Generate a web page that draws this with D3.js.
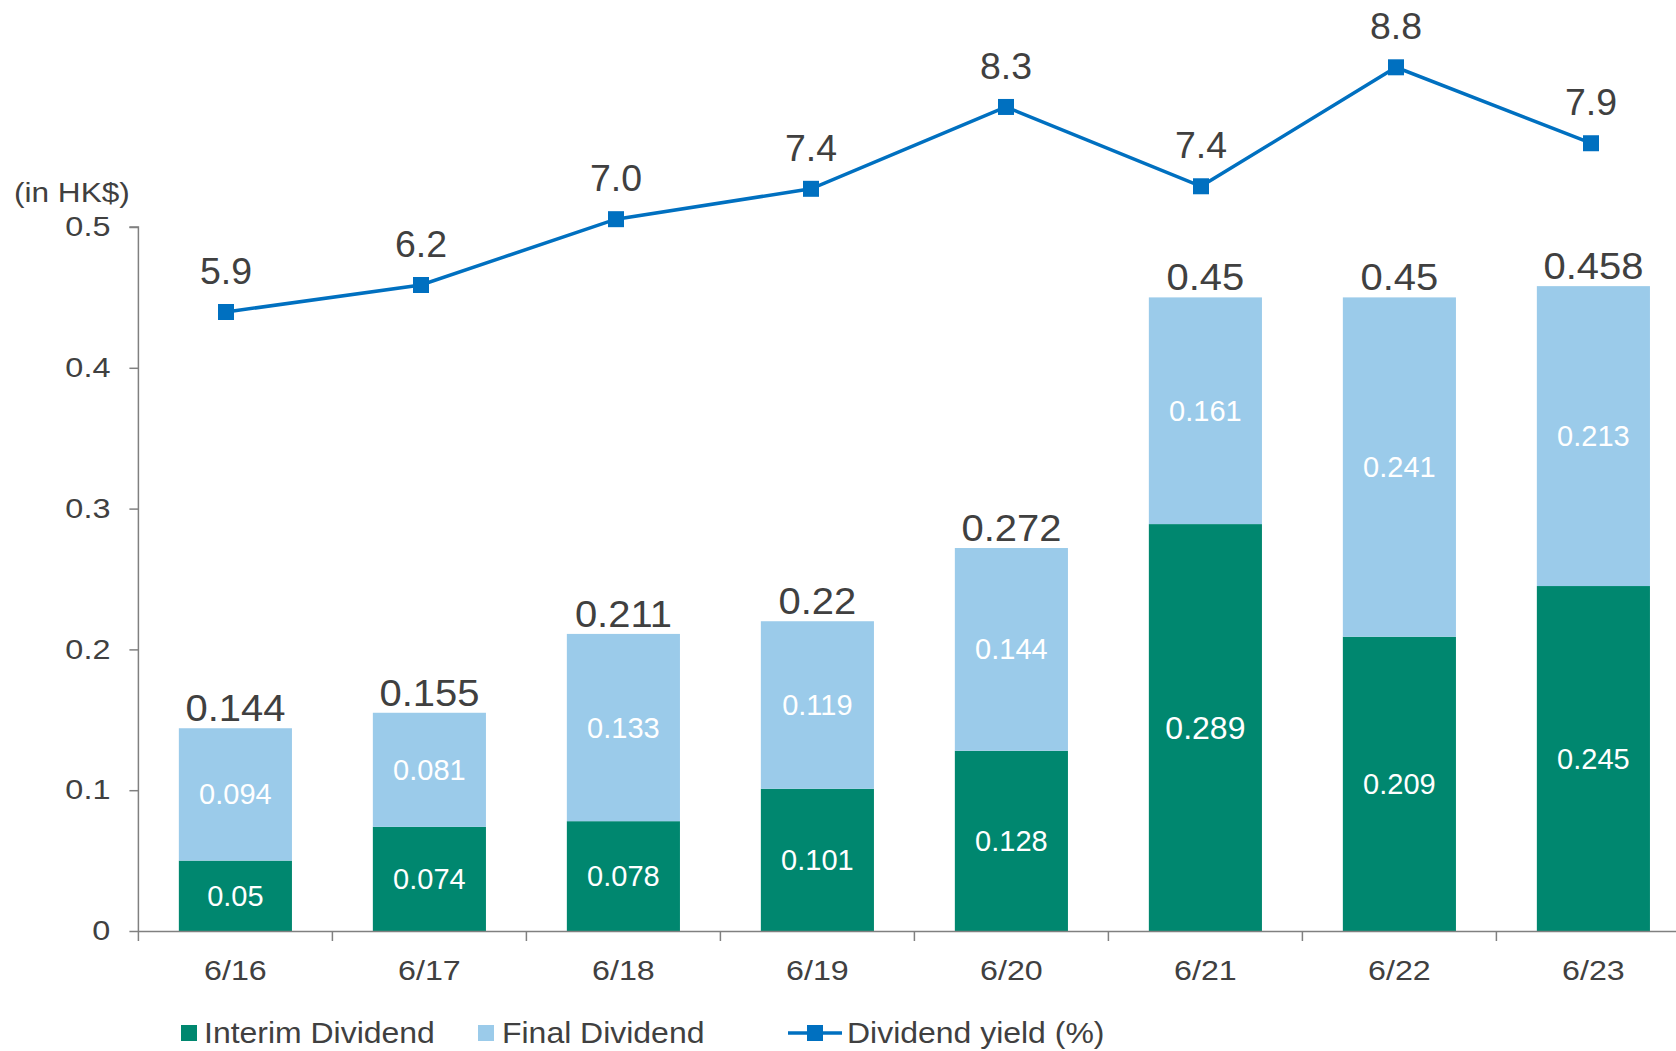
<!DOCTYPE html>
<html>
<head>
<meta charset="utf-8">
<script src="https://cdn.jsdelivr.net/npm/d3@7/dist/d3.min.js"></script>
<style>
  html, body { margin: 0; padding: 0; background: #fff; }
  svg { display: block; font-family: "Liberation Sans", Arial, sans-serif; }
</style>
</head>
<body>
<svg id="chart" width="1676" height="1051"></svg>
<script>
const categories = ["6/16", "6/17", "6/18", "6/19", "6/20", "6/21", "6/22", "6/23"];
const interim = [0.05, 0.074, 0.078, 0.101, 0.128, 0.289, 0.209, 0.245];
const finalDiv = [0.094, 0.081, 0.133, 0.119, 0.144, 0.161, 0.241, 0.213];
const totals = [0.144, 0.155, 0.211, 0.22, 0.272, 0.45, 0.45, 0.458];
const yieldPct = [5.9, 6.22, 7.0, 7.36, 8.33, 7.39, 8.8, 7.9];
const yTicks = [0, 0.1, 0.2, 0.3, 0.4, 0.5];
const legendLabels = ["Interim Dividend", "Final Dividend", "Dividend yield (%)"];

const GREEN = "#00876F", LIGHT = "#9BCBEA", BLUE = "#0070C0", TEXT = "#404040", AXIS = "#808080";
const FONT = "Liberation Sans, Arial, sans-serif";

const svg = d3.select("#chart");

// horizontally stretch text around its anchor point
function stretch(sel, sx) {
  sel.each(function () {
    const t = d3.select(this);
    const x0 = +t.attr("x") || 0, y0 = +t.attr("y") || 0;
    t.attr("x", 0).attr("y", 0).attr("transform", `translate(${x0},${y0}) scale(${sx},1)`);
  });
}

const x = d3.scaleBand().domain(categories).range([138.4, 1690.4]).paddingInner(0.417).paddingOuter(0.2085);
const y = d3.scaleLinear().domain([0, 0.5]).range([931, 227]);
const xLine = d3.scalePoint().domain(categories).range([226, 1591]);
const yLine = d3.scaleLinear().domain([5.9, 8.8]).range([312, 67.3]);

// stacked bars
const rows = categories.map((c, i) => ({ cat: c, interim: interim[i], final: finalDiv[i] }));
const stack = d3.stack().keys(["interim", "final"])(rows);
const colors = { interim: GREEN, final: LIGHT };

svg.append("g").selectAll("g").data(stack).join("g")
  .attr("fill", d => colors[d.key])
  .selectAll("rect").data(d => d).join("rect")
  .attr("x", d => x(d.data.cat))
  .attr("width", x.bandwidth())
  .attr("y", d => y(d[1]))
  .attr("height", d => y(d[0]) - y(d[1]));

// inner labels
stack.forEach(layer => {
  svg.append("g").selectAll("text").data(layer).join("text")
    .attr("x", d => x(d.data.cat) + x.bandwidth() / 2)
    .attr("y", d => (y(d[0]) + y(d[1])) / 2)
    .attr("text-anchor", "middle")
    .attr("dominant-baseline", "central")
    .attr("fill", "#fff")
    .attr("font-size", (d, i) => (layer.key === "interim" && i === 5) ? 32 : 29)
    .text(d => d.data[layer.key]);
});

// totals
const tot = svg.append("g").selectAll("text").data(categories).join("text")
  .attr("x", c => x(c) + x.bandwidth() / 2)
  .attr("y", (c, i) => y(totals[i]) - 7)
  .attr("text-anchor", "middle")
  .attr("fill", TEXT)
  .attr("font-size", 37)
  .text((c, i) => totals[i]);
stretch(tot, 1.08);

// axes
const yAxis = svg.append("g").attr("transform", "translate(138.4,0)")
  .call(d3.axisLeft(y).tickValues(yTicks).tickSize(9).tickPadding(19).tickFormat(d => d === 0 ? "0" : d3.format(".1f")(d)));
yAxis.select(".domain").attr("stroke", AXIS).attr("stroke-width", 1.5).attr("d", `M-9,227H0V931`);
yAxis.selectAll(".tick line").attr("stroke", AXIS).attr("stroke-width", 1.5);
const ytx = yAxis.selectAll(".tick text").attr("fill", TEXT).attr("font-size", 27).attr("font-family", FONT);
stretch(ytx, 1.2);

const xAxis = svg.append("g").attr("transform", "translate(0,931)")
  .call(d3.axisBottom(x).tickSize(0).tickPadding(29));
xAxis.select(".domain").attr("stroke", AXIS).attr("stroke-width", 1.5);
const xtx = xAxis.selectAll(".tick text").attr("fill", TEXT).attr("font-size", 28).attr("font-family", FONT);
stretch(xtx, 1.15);
// category separator ticks
const step = x.step();
svg.append("g").selectAll("line").data(d3.range(categories.length + 1)).join("line")
  .attr("x1", i => x.range()[0] + i * step).attr("x2", i => x.range()[0] + i * step)
  .attr("y1", 931).attr("y2", 941)
  .attr("stroke", AXIS).attr("stroke-width", 1.5);

const unit = svg.append("text").attr("x", 14).attr("y", 202).attr("fill", TEXT).attr("font-size", 27).text("(in HK$)");
stretch(unit, 1.17);

// yield line
const line = d3.line().x((d, i) => xLine(categories[i])).y(d => yLine(d));
svg.append("path").datum(yieldPct).attr("d", line).attr("fill", "none").attr("stroke", BLUE).attr("stroke-width", 3.5);
svg.append("g").selectAll("rect").data(yieldPct).join("rect")
  .attr("x", (d, i) => xLine(categories[i]) - 8).attr("y", d => yLine(d) - 8)
  .attr("width", 16).attr("height", 16).attr("fill", BLUE);
const yl = svg.append("g").selectAll("text").data(yieldPct).join("text")
  .attr("x", (d, i) => xLine(categories[i]))
  .attr("y", d => yLine(d) - 28)
  .attr("text-anchor", "middle").attr("fill", TEXT).attr("font-size", 36)
  .text(d => d3.format(".1f")(d));
stretch(yl, 1.04);

// legend
const lg = svg.append("g").attr("font-size", 30).attr("fill", TEXT);
lg.append("rect").attr("x", 181).attr("y", 1025).attr("width", 16).attr("height", 16).attr("fill", GREEN);
lg.append("rect").attr("x", 478).attr("y", 1025).attr("width", 16).attr("height", 16).attr("fill", LIGHT);
lg.append("line").attr("x1", 788).attr("x2", 842).attr("y1", 1033).attr("y2", 1033).attr("stroke", BLUE).attr("stroke-width", 3.5);
lg.append("rect").attr("x", 807).attr("y", 1025).attr("width", 16).attr("height", 16).attr("fill", BLUE);
const lt = lg.selectAll("text.lbl").data(legendLabels).join("text").attr("class", "lbl")
  .attr("x", (d, i) => [204, 502, 847][i]).attr("y", 1043).text(d => d);
stretch(lt, 1.065);
</script>
</body>
</html>
